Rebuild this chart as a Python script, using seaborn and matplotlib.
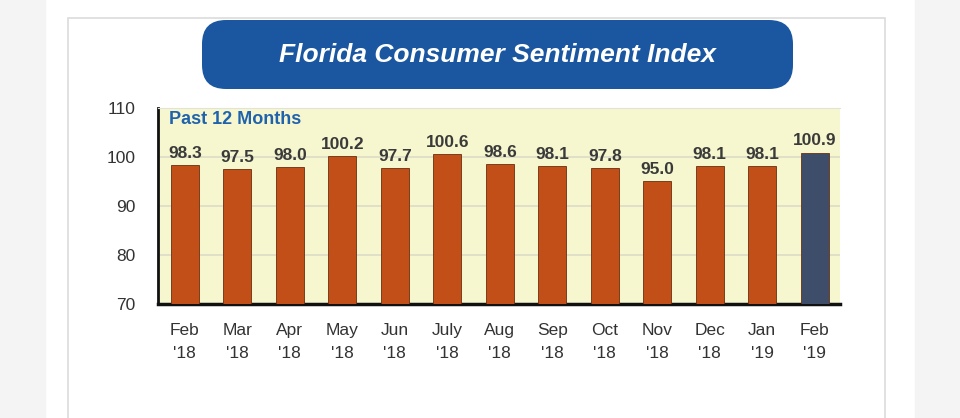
import matplotlib
matplotlib.use('Agg')
import matplotlib.pyplot as plt
from matplotlib.patches import FancyBboxPatch, Rectangle
import seaborn as sns
import pandas as pd

# data
months = ["Feb\n'18", "Mar\n'18", "Apr\n'18", "May\n'18", "Jun\n'18", "July\n'18",
          "Aug\n'18", "Sep\n'18", "Oct\n'18", "Nov\n'18", "Dec\n'18", "Jan\n'19", "Feb\n'19"]
values = [98.3, 97.5, 98.0, 100.2, 97.7, 100.6, 98.6, 98.1, 97.8, 95.0, 98.1, 98.1, 100.9]
bar_colors = ['#c24f17'] * 12 + ['#3e4d6a']

df = pd.DataFrame({'month': months, 'index': values})

sns.set_style('white')
plt.rcParams['font.family'] = ['Liberation Sans', 'DejaVu Sans']

fig = plt.figure(figsize=(9.6, 4.18), dpi=100)
fig.patch.set_facecolor('white')

# side strips + panel outline (background of the original image)
fig.add_artist(Rectangle((0, 0), 45/960, 1, transform=fig.transFigure, color='#f4f4f4', zorder=0))
fig.add_artist(Rectangle((915/960, 0), 45/960, 1, transform=fig.transFigure, color='#f4f4f4', zorder=0))
fig.add_artist(Rectangle((68/960, -0.05), (885-68)/960, 1.05 - 18/418, transform=fig.transFigure,
                         facecolor='white', edgecolor='#dcdcdc', lw=1.2, zorder=0))

# title box
fig.add_artist(FancyBboxPatch((202/960, 1 - 89/418), (793-202)/960, 69/418,
                              boxstyle='round,pad=0,rounding_size=0.025',
                              transform=fig.transFigure, facecolor='#1a57a0', edgecolor='none',
                              mutation_aspect=960/418))
fig.text(0.518, 1 - 55/418, 'Florida Consumer Sentiment Index', color='white',
         fontsize=19, fontweight='bold', fontstyle='italic', ha='center', va='center')

ax = fig.add_axes([158/960, 1 - 304/418, (840-158)/960, (304-108)/418])
sns.barplot(data=df, x='month', y='index', hue='month', palette=bar_colors, legend=False,
            width=0.54, saturation=1, edgecolor='#6a2e0e', linewidth=0.6, ax=ax, zorder=3)

ax.set_facecolor('#f7f7cf')
ax.set_ylim(70, 110)
ax.set_xlim(-0.51, 12.48)
ax.set_yticks([70, 80, 90, 100, 110])
ax.yaxis.grid(True, color='#dcdcc8', lw=1.2, zorder=0)
ax.set_axisbelow(True)
ax.set_xlabel('')
ax.set_ylabel('')
ax.tick_params(axis='x', length=0, pad=14, labelsize=12.5, labelcolor='#333333')
ax.tick_params(axis='y', length=0, pad=16, labelsize=12.5, labelcolor='#333333')
for lbl in ax.get_xticklabels():
    lbl.set_linespacing(1.65)

ax.spines['left'].set_color('#111111')
ax.spines['left'].set_linewidth(2)
ax.spines['bottom'].set_color('#111111')
ax.spines['bottom'].set_linewidth(2.5)
ax.spines['right'].set_visible(False)
ax.spines['top'].set_color('#e2e2d6')

for i, v in enumerate(values):
    ax.annotate(f'{v:.1f}', (i, v), xytext=(0, 3), textcoords='offset points',
                ha='center', va='bottom', fontsize=12.5, fontweight='bold', color='#3a3a3a')

ax.text(0.016, 0.985, 'Past 12 Months', transform=ax.transAxes, ha='left', va='top',
        fontsize=13, fontweight='bold', color='#2063ad')

fig.savefig('out.png', dpi=100)
